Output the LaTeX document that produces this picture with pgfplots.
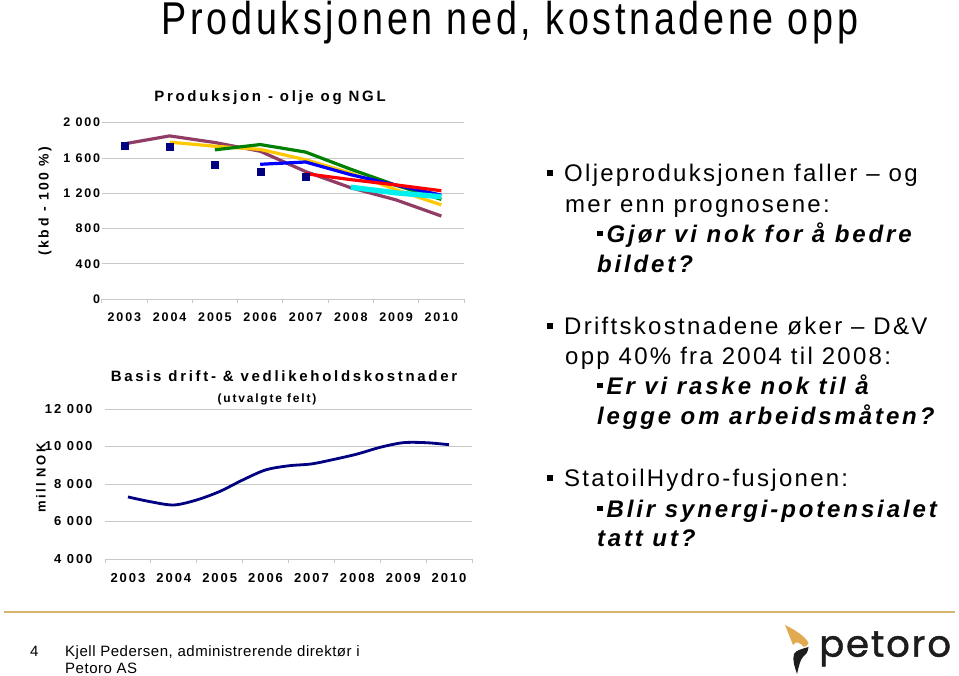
\documentclass[border=0pt]{standalone}
\usepackage{fontspec}
\setmainfont{Liberation Sans}
\newfontfamily\tickf[LetterSpace=15]{Liberation Sans}
\newfontfamily\ttlf[LetterSpace=18]{Liberation Sans}
\newfontfamily\bodyf[LetterSpace=9.5]{Liberation Sans}
\newfontfamily\subf[LetterSpace=12]{Liberation Sans}
\newfontfamily\footf[LetterSpace=3.5]{Liberation Sans}
\newfontfamily\headf[FakeStretch=0.82,LetterSpace=8]{Liberation Sans}
\newfontfamily\logof[LetterSpace=5,FakeBold=1.2]{Poppins}
\usepackage{pgfplots}
\pgfplotsset{compat=1.18}
\definecolor{gridgray}{RGB}{200,200,200}
\definecolor{plum}{RGB}{145,60,100}
\definecolor{gold}{RGB}{255,200,0}
\definecolor{lgreen}{RGB}{0,128,0}
\definecolor{lblue}{RGB}{0,0,255}
\definecolor{lred}{RGB}{255,0,0}
\definecolor{lcyan}{RGB}{0,240,240}
\definecolor{navy}{RGB}{0,0,128}
\definecolor{rulegold}{RGB}{214,180,110}
\definecolor{logogold}{RGB}{225,170,80}
\definecolor{logoblack}{RGB}{30,28,28}
\pgfplotsset{
  slide/.style={
    scale only axis, anchor=south west, clip=false,
    xmin=2002.5, xmax=2010.5,
    axis x line*=bottom, axis y line*=left,
    y axis line style={draw=none},
    x axis line style={draw=gridgray, line width=0.8pt},
    xtick={2003,2004,2005,2006,2007,2008,2009,2010},
    xticklabels={2003,2004,2005,2006,2007,2008,2009,2010},
    minor xtick={2002.5,2003.5,...,2010.5},
    major tick length=0pt, minor tick length=4pt,
    tick align=outside,
    minor x tick style={draw=gridgray, line width=0.8pt},
    ytick style={draw=none},
    scaled y ticks=false,
    ymajorgrids, major grid style={draw=gridgray, line width=0.8pt},
  },
}
\begin{document}
\begin{tikzpicture}[x=1pt,y=1pt]
\fill[white] (0,0) rectangle (959,676);

% main title
\node[anchor=base, inner sep=0] at (510,641) {\headf\fontsize{46}{50}\selectfont Produksjonen ned, kostnadene opp};

% production chart
\begin{axis}[slide,
  at={(101.7pt,377pt)}, width=362.3pt, height=176.3pt,
  ymin=0, ymax=2000,
  ytick={0,400,800,1200,1600,2000},
  yticklabels={0,400,800,1 200,1 600,2 000},
  tick label style={font=\tickf\bfseries\fontsize{12.5}{14}\selectfont},
  yticklabel style={xshift=2pt},
  xticklabel style={yshift=-10pt},
]
\addplot[plum, line width=3.2pt] coordinates {
  (2003,1760) (2004,1850) (2005,1775) (2006,1676) (2007,1446) (2008,1262) (2009,1124) (2010,941)};
\addplot[gold, line width=3.2pt] coordinates {
  (2004,1779) (2005,1733) (2006,1697) (2007,1580) (2008,1428) (2009,1240) (2010,1067)};
\addplot[lgreen, line width=3.2pt] coordinates {
  (2005,1692) (2006,1752) (2007,1667) (2008,1472) (2009,1290) (2010,1130)};
\addplot[lblue, line width=3.2pt] coordinates {
  (2006,1528) (2007,1554) (2008,1410) (2009,1292) (2010,1178)};
\addplot[lred, line width=3.2pt] coordinates {
  (2007,1422) (2008,1354) (2009,1294) (2010,1228)};
\addplot[lcyan, line width=5.3pt] coordinates {
  (2008,1268) (2009,1204) (2010,1160)};
\addplot[only marks, mark=square*, mark size=3.5pt, navy] coordinates {
  (2003,1738) (2004,1730) (2005,1520) (2006,1446) (2007,1384)};
\end{axis}
\node[inner sep=0] at (270,578) {\ttlf\bfseries\fontsize{15}{17}\selectfont Produksjon - olje og NGL};
\node[inner sep=0, rotate=90] at (45,475) {\ttlf\bfseries\fontsize{14}{16}\selectfont (kbd - 100 \%)};

% cost chart
\begin{axis}[slide,
  at={(105pt,117pt)}, width=367pt, height=150pt,
  ymin=4000, ymax=12000,
  ytick={4000,6000,8000,10000,12000},
  yticklabels={4 000,6 000,8 000,10 000,12 000},
  tick label style={font=\tickf\bfseries\fontsize{13}{15}\selectfont},
  yticklabel style={xshift=-9pt},
  xticklabel style={yshift=-11pt},
]
\addplot[navy, line width=2.8pt, smooth, tension=0.5] coordinates {
  (2003,7310) (2003.5,7050) (2004,6880) (2004.5,7150) (2005,7600) (2005.5,8213)
  (2006,8750) (2006.5,8970) (2007,9070) (2007.5,9317) (2008,9600) (2008.5,9957)
  (2009,10203) (2009.5,10203) (2010,10096)};
\end{axis}
\node[inner sep=0] at (284,300) {\ttlf\bfseries\fontsize{15}{17}\selectfont Basis drift- \& vedlikeholdskostnader};
\node[inner sep=0] at (267,277) {\tickf\bfseries\fontsize{12}{14}\selectfont (utvalgte felt)};
\node[inner sep=0, rotate=90] at (41,198) {\ttlf\bfseries\fontsize{13}{15}\selectfont mill NOK};

% right hand text
\newcommand\mb[1]{\fill[black] (546.7,#1+6) rectangle ++(6,6);}
\newcommand\sbul[1]{\fill[black] (597.3,#1+6.4) rectangle ++(5.4,5.4);}
\tikzset{tx/.style={anchor=base west, inner sep=0}}
\def\bsz{\fontsize{24}{28}\selectfont}
\mb{494}
\node[tx] at (564,494) {\bodyf\bsz Oljeproduksjonen faller – og};
\node[tx] at (565,463.5) {\bodyf\bsz mer enn prognosene:};
\sbul{433.5}
\node[tx] at (606.5,433.5) {\subf\bfseries\itshape\bsz Gjør vi nok for å bedre};
\node[tx] at (596.8,403.5) {\subf\bfseries\itshape\bsz bildet?};
\mb{341}
\node[tx] at (564,341) {\bodyf\bsz Driftskostnadene øker – D\&V};
\node[tx] at (565,311) {\bodyf\bsz opp 40\% fra 2004 til 2008:};
\sbul{281.5}
\node[tx] at (606.5,281.5) {\subf\bfseries\itshape\bsz Er vi raske nok til å};
\node[tx] at (596.8,251.5) {\subf\bfseries\itshape\bsz legge om arbeidsmåten?};
\mb{189}
\node[tx] at (564,189) {\bodyf\bsz StatoilHydro-fusjonen:};
\sbul{158.5}
\node[tx] at (606.5,158.5) {\subf\bfseries\itshape\bsz Blir synergi-potensialet};
\node[tx] at (596.8,129.5) {\subf\bfseries\itshape\bsz tatt ut?};

% footer
\draw[rulegold, line width=1.3pt] (4,64) -- (955,64);
\node[tx] at (30,19.3) {\footf\fontsize{15}{17}\selectfont 4};
\node[tx] at (65,19.3) {\footf\fontsize{15}{17}\selectfont Kjell Pedersen, administrerende direktør i};
\node[tx] at (65,2.7) {\footf\fontsize{15}{17}\selectfont Petoro AS};
% logo
\fill[logogold] (785,51) .. controls (795,46) and (805,40) .. (808.5,33) .. controls (808,31) and (806,29.5) .. (804,29) .. controls (800,33) and (796,36) .. (793,31) -- cycle;
\fill[logoblack] (808.5,29) .. controls (802,27) and (796,26) .. (794,22) .. controls (792,16) and (795,8) .. (797,2) .. controls (799,10) and (800,16) .. (803,19) .. controls (806,21) and (808,24) .. cycle;
\node[tx, text=logoblack] at (819,19.3) {\logof\fontsize{37}{40}\selectfont petoro};
\end{tikzpicture}
\end{document}
